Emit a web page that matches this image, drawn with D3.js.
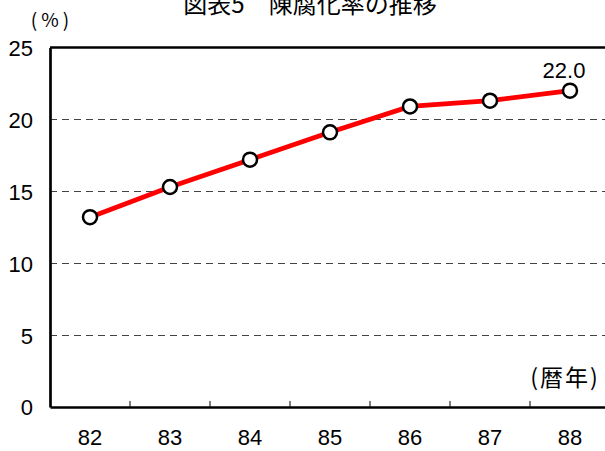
<!DOCTYPE html>
<html><head><meta charset="utf-8">
<script src="https://cdn.jsdelivr.net/npm/d3@7"></script>
<style>body{margin:0;background:#fff}svg{display:block}</style>
</head><body>
<script>
const categories = ["82","83","84","85","86","87","88"];
const values = [13.2, 15.3, 17.2, 19.1, 20.9, 21.3, 22.0];
const yTicks = [0,5,10,15,20,25];
const title = "図表5\u3000陳腐化率の推移";
const yUnit = "(%)";
const xUnit = "(暦年)";

(function(){
const W=605,H=451;
const svg=d3.select("body").append("svg").attr("width",W).attr("height",H);
const font="'Liberation Sans',Arial,sans-serif";
const jfont="'Noto Sans CJK JP',sans-serif";
const pLeft=50,pRight=610,pTop=47.5,pBottom=407;
const x=d3.scaleBand().domain(categories).range([pLeft,pRight]);
const y=d3.scaleLinear().domain([0,25]).range([pBottom,pTop]);

svg.append("g").selectAll("line").data(yTicks.filter(t=>t>0&&t<25)).join("line")
 .attr("x1",pLeft).attr("x2",W).attr("y1",d=>Math.round(y(d))+0.5).attr("y2",d=>Math.round(y(d))+0.5)
 .attr("stroke","#444").attr("stroke-width",1).attr("stroke-dasharray","7,5");
svg.append("line").attr("x1",pLeft).attr("x2",W).attr("y1",y(25)).attr("y2",y(25)).attr("stroke","#000").attr("stroke-width",2.5);
const ya=svg.append("g").attr("transform",`translate(${pLeft},0)`).call(d3.axisLeft(y).tickValues(yTicks).tickSize(0).tickPadding(17));
ya.select(".domain").attr("stroke","#000").attr("stroke-width",2.7);
ya.selectAll("text").attr("font-family",font).attr("font-size",22).attr("fill","#000").attr("dy","0.36em");
const xa=svg.append("g").attr("transform",`translate(0,${pBottom})`).call(d3.axisBottom(x).tickSize(0).tickPadding(22.5));
xa.select(".domain").attr("stroke","#000").attr("stroke-width",2.7);
xa.selectAll("text").attr("font-family",font).attr("font-size",22).attr("fill","#000");
svg.append("g").selectAll("line").data(categories.slice(1)).join("line")
 .attr("x1",d=>x(d)).attr("x2",d=>x(d)).attr("y1",pBottom).attr("y2",pBottom-6)
 .attr("stroke","#000").attr("stroke-width",1);

const cx=d=>x(d)+x.bandwidth()/2;
const data=categories.map((c,i)=>({c,v:values[i]}));
svg.append("path").datum(data).attr("fill","none").attr("stroke","#ff0000").attr("stroke-width",4.8)
 .attr("d",d3.line().x(d=>cx(d.c)).y(d=>y(d.v)));
svg.append("g").selectAll("circle").data(data).join("circle")
 .attr("cx",d=>cx(d.c)).attr("cy",d=>y(d.v)).attr("r",7).attr("fill","#fff").attr("stroke","#000").attr("stroke-width",2.5);

const last=data[data.length-1];
svg.append("text").attr("x",cx(last.c)-6).attr("y",y(last.v)-13).attr("text-anchor","middle")
 .attr("font-family",font).attr("font-size",22).text(last.v.toFixed(1));

svg.append("text").attr("x",310).attr("y",13).attr("text-anchor","middle")
 .attr("font-family",jfont).attr("font-size",24).text(title);
svg.append("text").attr("x",52).attr("y",27).attr("text-anchor","middle").attr("letter-spacing",4)
 .attr("font-family",jfont).attr("font-size",19).text(yUnit);
svg.append("text").attr("x",565).attr("y",386).attr("text-anchor","middle").attr("letter-spacing",2)
 .attr("font-family",jfont).attr("font-size",23).text(xUnit);
})();
</script>
</body></html>
